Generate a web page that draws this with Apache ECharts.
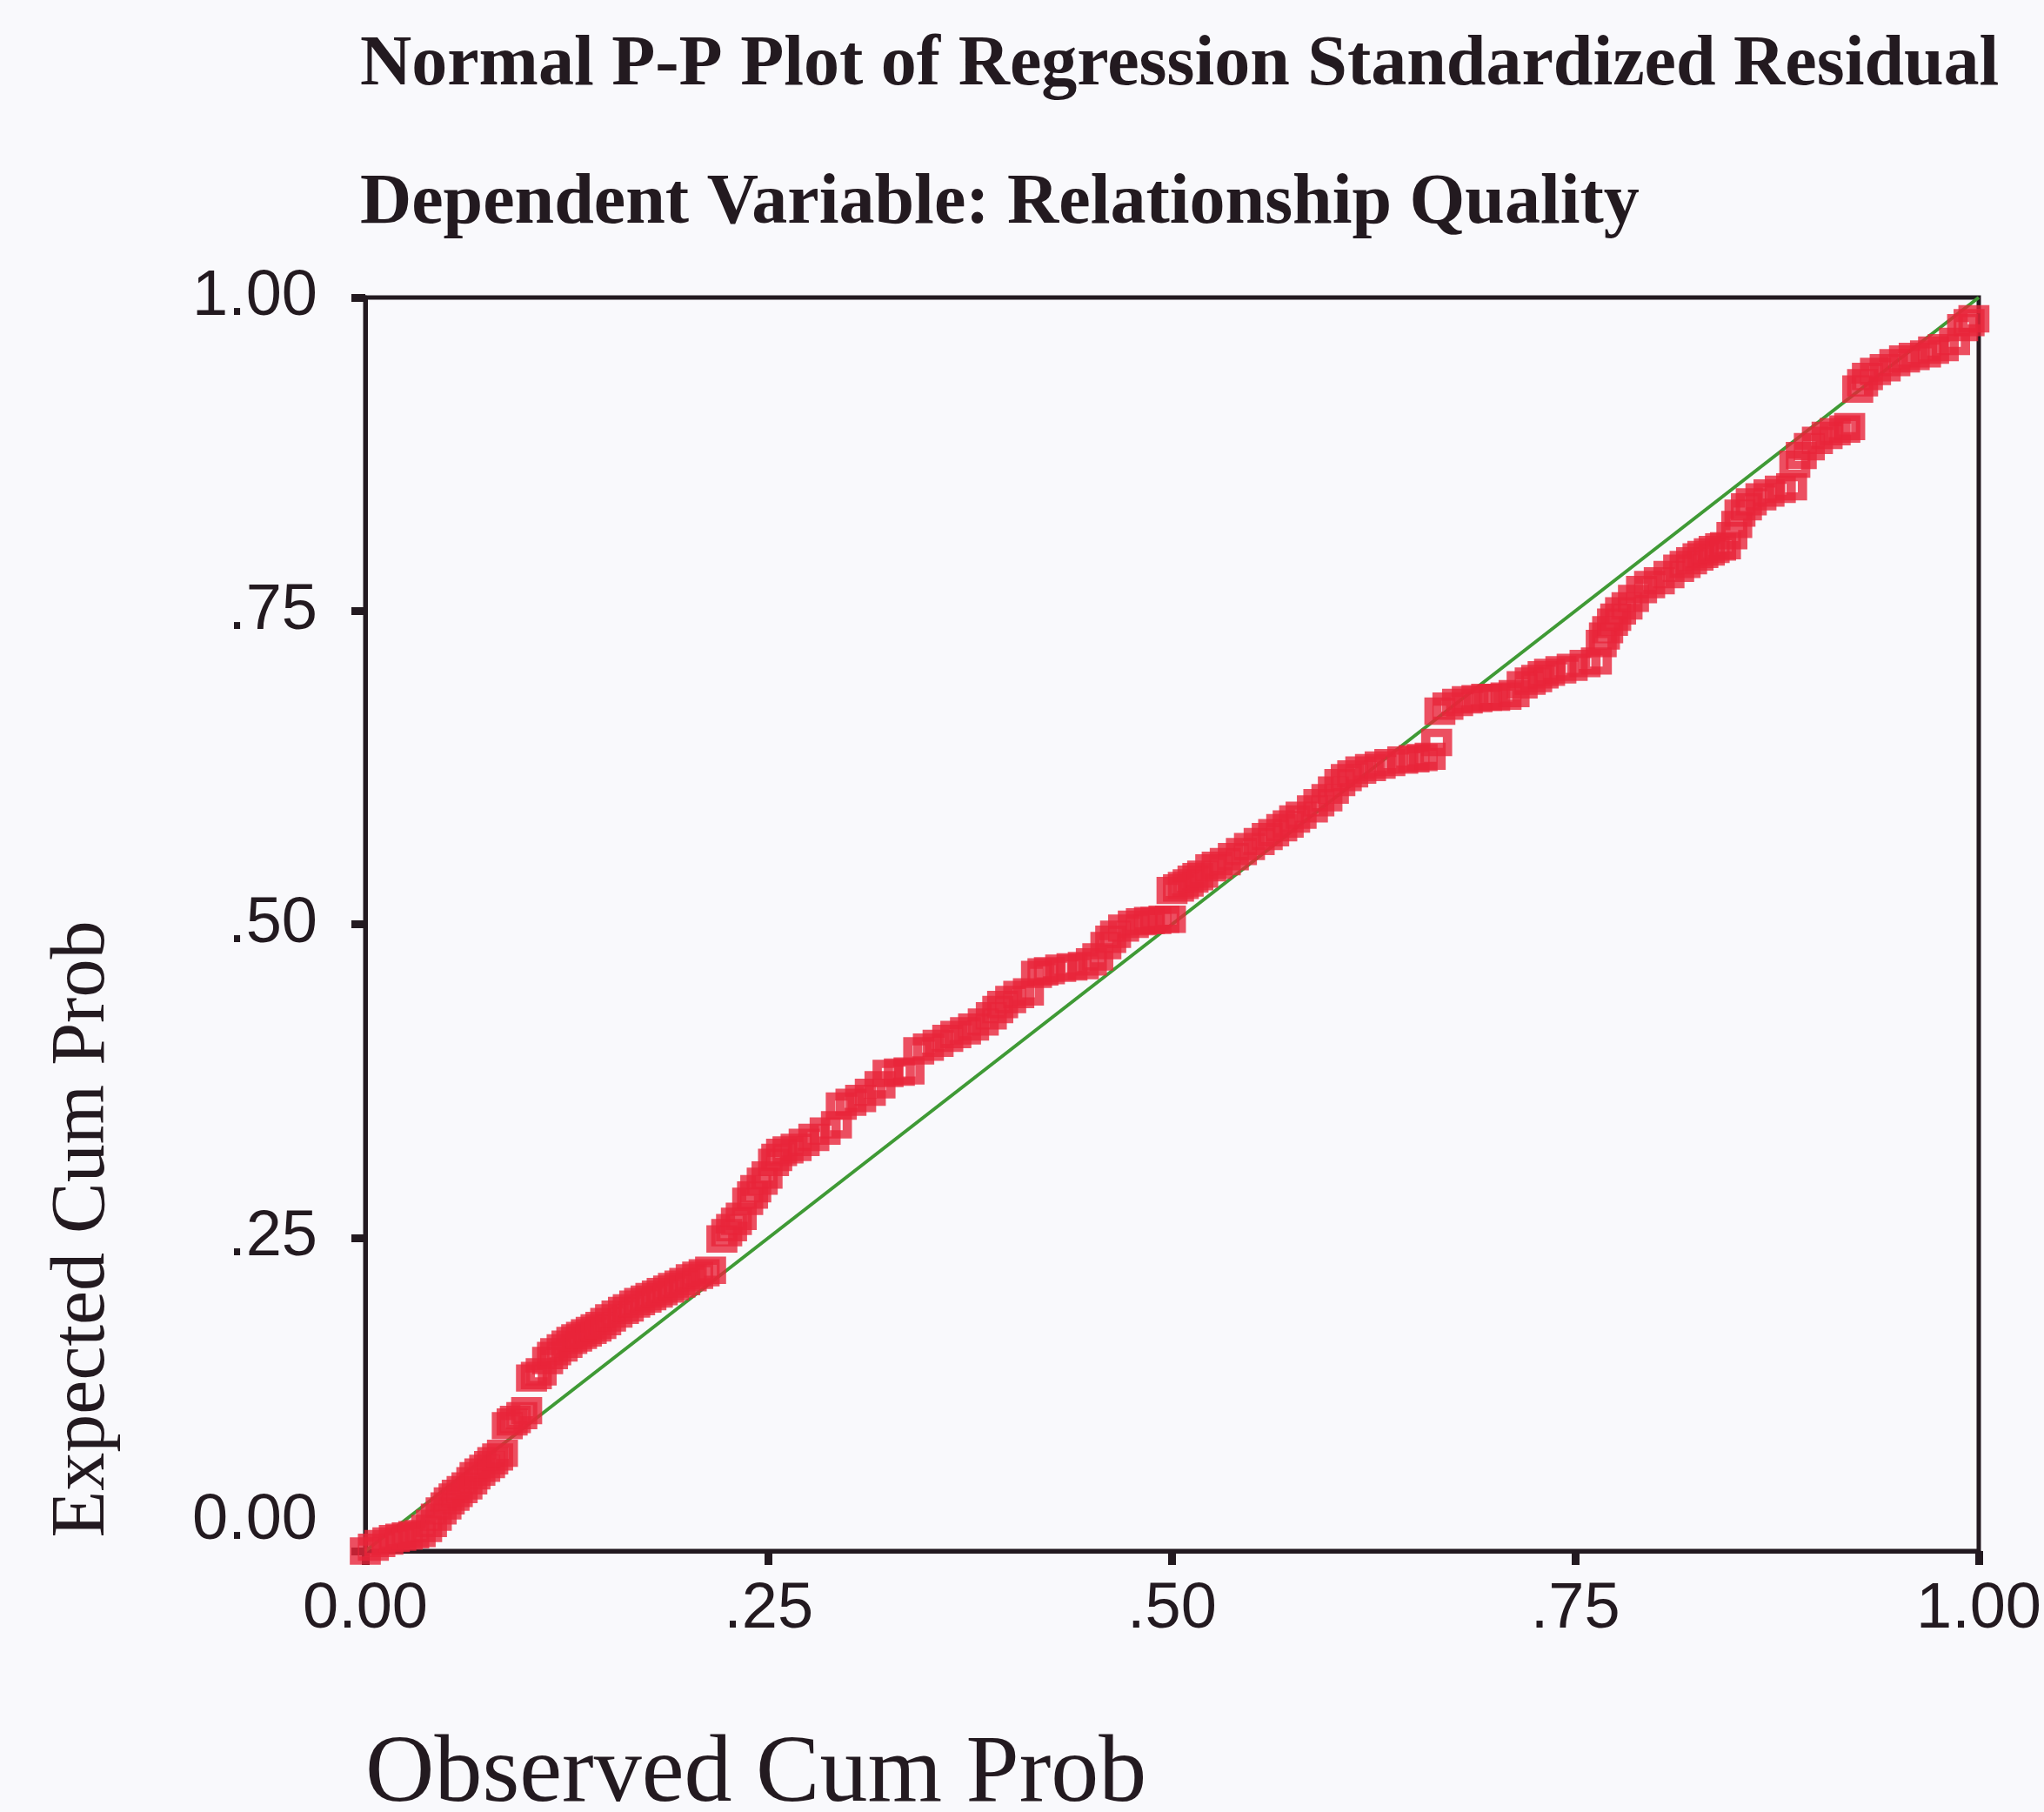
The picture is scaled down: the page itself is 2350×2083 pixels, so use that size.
<!DOCTYPE html>
<html>
<head>
<meta charset="utf-8">
<script src="https://cdn.jsdelivr.net/npm/echarts@6/dist/echarts.min.js"></script>
<style>
html, body { margin: 0; padding: 0; background: #f9f9fc; }
#chart { width: 2350px; height: 2083px; }
</style>
</head>
<body>
<div id="chart"></div>
<script>
const chartTitle = 'Normal P-P Plot of Regression Standardized Residual';
const chartSubtitle = 'Dependent Variable: Relationship Quality';
const xAxisTitle = 'Observed Cum Prob';
const yAxisTitle = 'Expected Cum Prob';
const xTickLabels = ['0.00', '.25', '.50', '.75', '1.00'];
const yTickLabels = ['0.00', '.25', '.50', '.75', '1.00'];

const observedCumProb = [
  0.000,0.005,0.009,0.014,0.018,0.022,0.026,0.030,0.034,0.038,
  0.041,0.044,0.047,0.050,0.052,0.055,0.057,0.060,0.063,0.066,
  0.068,0.071,0.074,0.077,0.079,0.082,0.085,0.088,0.091,0.093,
  0.097,0.100,0.103,0.106,0.109,0.113,0.116,0.118,0.122,0.125,
  0.128,0.131,0.134,0.137,0.140,0.143,0.146,0.149,0.152,0.156,
  0.160,0.163,0.167,0.170,0.174,0.177,0.181,0.184,0.188,0.191,
  0.195,0.198,0.202,0.206,0.210,0.214,0.221,0.224,0.227,0.230,
  0.233,0.237,0.240,0.242,0.246,0.249,0.253,0.255,0.258,0.262,
  0.267,0.272,0.278,0.285,0.292,0.295,0.301,0.307,0.313,0.319,
  0.324,0.331,0.337,0.343,0.349,0.355,0.361,0.366,0.372,0.377,
  0.383,0.388,0.392,0.395,0.400,0.405,0.411,0.416,0.420,0.424,
  0.431,0.438,0.445,0.450,0.454,0.459,0.462,0.465,0.470,0.476,
  0.481,0.486,0.490,0.495,0.499,0.500,0.504,0.507,0.510,0.513,
  0.516,0.519,0.524,0.528,0.533,0.538,0.543,0.548,0.554,0.559,
  0.563,0.568,0.572,0.576,0.580,0.587,0.591,0.596,0.600,0.604,
  0.608,0.612,0.617,0.623,0.629,0.635,0.643,0.650,0.655,0.660,
  0.664,0.666,0.671,0.677,0.683,0.689,0.695,0.700,0.707,0.712,
  0.717,0.722,0.726,0.730,0.734,0.741,0.748,0.756,0.763,0.766,
  0.768,0.770,0.773,0.775,0.778,0.782,0.786,0.791,0.796,0.802,
  0.808,0.814,0.818,0.822,0.826,0.829,0.833,0.836,0.840,0.843,
  0.847,0.850,0.852,0.856,0.859,0.865,0.870,0.877,0.884,0.886,
  0.890,0.895,0.900,0.906,0.911,0.917,0.920,0.925,0.928,0.931,
  0.936,0.942,0.948,0.954,0.960,0.967,0.972,0.978,0.985,0.990,
  0.994,0.997
];

const expectedCumProb = [
  0.000,0.003,0.006,0.008,0.010,0.011,0.012,0.013,0.014,0.018,
  0.022,0.027,0.032,0.036,0.040,0.043,0.046,0.049,0.052,0.056,
  0.060,0.063,0.066,0.069,0.072,0.075,0.078,0.100,0.103,0.105,
  0.108,0.112,0.138,0.140,0.143,0.152,0.156,0.159,0.162,0.165,
  0.168,0.170,0.172,0.174,0.176,0.178,0.180,0.183,0.186,0.189,
  0.192,0.194,0.197,0.199,0.201,0.203,0.205,0.207,0.209,0.211,
  0.213,0.215,0.218,0.220,0.222,0.224,0.249,0.254,0.258,0.263,
  0.267,0.279,0.284,0.289,0.295,0.300,0.310,0.314,0.318,0.320,
  0.322,0.326,0.330,0.335,0.340,0.355,0.358,0.361,0.366,0.372,
  0.381,0.382,0.383,0.399,0.402,0.405,0.409,0.412,0.415,0.418,
  0.422,0.427,0.432,0.436,0.440,0.444,0.446,0.460,0.462,0.463,
  0.465,0.466,0.467,0.470,0.474,0.483,0.488,0.492,0.497,0.500,
  0.502,0.503,0.503,0.504,0.504,0.527,0.529,0.531,0.533,0.536,
  0.538,0.540,0.545,0.547,0.550,0.554,0.558,0.562,0.566,0.570,
  0.573,0.577,0.580,0.584,0.587,0.592,0.597,0.601,0.607,0.613,
  0.617,0.620,0.623,0.625,0.627,0.629,0.631,0.632,0.633,0.634,
  0.645,0.670,0.674,0.677,0.679,0.680,0.681,0.681,0.682,0.684,
  0.691,0.694,0.696,0.699,0.701,0.703,0.705,0.708,0.710,0.724,
  0.730,0.735,0.741,0.745,0.750,0.754,0.760,0.767,0.771,0.774,
  0.779,0.784,0.787,0.790,0.793,0.795,0.797,0.799,0.801,0.802,
  0.810,0.819,0.828,0.833,0.837,0.841,0.844,0.847,0.849,0.867,
  0.874,0.881,0.886,0.890,0.893,0.895,0.897,0.927,0.932,0.937,
  0.941,0.944,0.948,0.951,0.953,0.955,0.958,0.960,0.965,0.976,
  0.980,0.983
];

const referenceLineX = [0, 1];
const referenceLineY = [0, 1];

const ink = '#231a20';
const pointData = observedCumProb.map((x, i) => [x, expectedCumProb[i]]);
const lineData = referenceLineX.map((x, i) => [x, referenceLineY[i]]);

const chart = echarts.init(document.getElementById('chart'));
chart.setOption({
  animation: false,
  backgroundColor: '#f9f9fc',
  title: [
    {
      text: chartTitle, left: 414, top: 35, padding: 0,
      textStyle: { fontFamily: 'Liberation Serif', fontWeight: 'bold', fontSize: 82, color: ink }
    },
    {
      text: chartSubtitle, left: 414, top: 194, padding: 0,
      textStyle: { fontFamily: 'Liberation Serif', fontWeight: 'bold', fontSize: 82, color: ink }
    }
  ],
  grid: {
    left: 420, right: 72, top: 342, bottom: 300,
    show: true, borderColor: ink, borderWidth: 5, backgroundColor: 'transparent'
  },
  xAxis: {
    type: 'value', min: 0, max: 1, interval: 0.25,
    axisLine: { show: true, onZero: false, lineStyle: { color: ink, width: 5 } },
    axisTick: { show: true, inside: false, length: 16, lineStyle: { color: ink, width: 9 } },
    splitLine: { show: false },
    axisLabel: {
      margin: 31, fontFamily: 'Liberation Sans', fontSize: 74, color: ink,
      formatter: v => xTickLabels[Math.round(v / 0.25)]
    }
  },
  yAxis: {
    type: 'value', min: 0, max: 1, interval: 0.25,
    axisLine: { show: true, onZero: false, lineStyle: { color: ink, width: 5 } },
    axisTick: { show: true, inside: false, length: 16, lineStyle: { color: ink, width: 9 } },
    splitLine: { show: false },
    axisLabel: {
      margin: 55, fontFamily: 'Liberation Sans', fontSize: 74, color: ink,
      formatter: v => {
        const t = yTickLabels[Math.round(v / 0.25)];
        return v === 0 ? '{low|' + t + '}' : t;
      },
      rich: {
        low: { fontFamily: 'Liberation Sans', fontSize: 74, color: ink, padding: [0, 0, 68, 0] }
      }
    }
  },
  graphic: [
    {
      type: 'text', x: 96, y: 1413, rotation: Math.PI / 2, z: 10,
      style: {
        text: yAxisTitle, fontFamily: 'Liberation Serif', fontSize: 88, fill: ink,
        align: 'center', verticalAlign: 'middle', textAlign: 'center', textVerticalAlign: 'middle'
      }
    },
    {
      type: 'text', x: 420, y: 2041, z: 10,
      style: {
        text: xAxisTitle, fontFamily: 'Liberation Serif', fontSize: 110, fill: ink,
        align: 'left', verticalAlign: 'middle', textAlign: 'left', textVerticalAlign: 'middle'
      }
    }
  ],
  series: [
    {
      type: 'line', data: lineData, symbol: 'none', silent: true, z: 2,
      lineStyle: { color: '#3f9a35', width: 4 }
    },
    {
      type: 'scatter', data: pointData, symbol: 'rect', symbolSize: [25, 22], z: 3,
      itemStyle: { color: 'rgba(0,0,0,0)', borderColor: '#e8243a', borderWidth: 10 }
    }
  ]
});
</script>
</body>
</html>
